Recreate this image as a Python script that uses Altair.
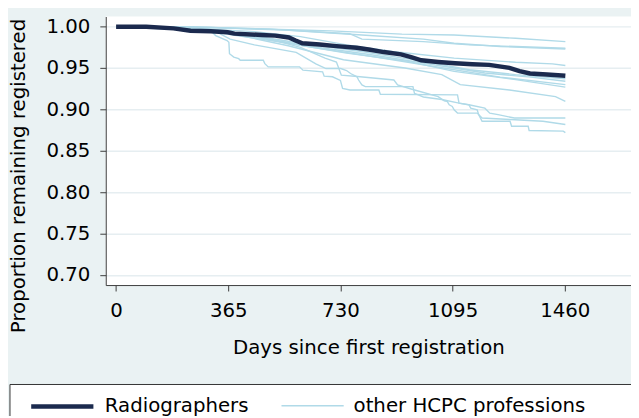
import altair as alt
import pandas as pd

# ---- data (day, proportion remaining registered) ----
radiographers = [(0, 1.000), (98, 1.000), (187, 0.998), (242, 0.995), (308, 0.9944), (363, 0.9932),
                 (385, 0.9916), (474, 0.990), (518, 0.9892), (562, 0.9869), (584, 0.9833), (606, 0.980),
                 (662, 0.9785), (717, 0.9765), (783, 0.9745), (827, 0.9721), (871, 0.9693), (927, 0.9665),
                 (960, 0.9633), (993, 0.9594), (1048, 0.9574), (1103, 0.9558), (1159, 0.9546), (1214, 0.9538),
                 (1280, 0.9502), (1313, 0.9462), (1347, 0.9434), (1402, 0.9422), (1462, 0.9406)]

other_a = [(0, 1.0), (250, 1.0), (400, 0.998), (700, 0.995), (930, 0.991), (1100, 0.990), (1300, 0.986), (1462, 0.982)]
other_b = [(0, 1.0), (300, 0.999), (500, 0.997), (760, 0.9915), (800, 0.985), (1000, 0.982), (1150, 0.978), (1300, 0.976), (1462, 0.974)]
other_c = [(0, 1.0), (300, 0.999), (550, 0.996), (800, 0.990), (1000, 0.985), (1100, 0.980), (1250, 0.976), (1462, 0.973)]
other_d = [(0, 1.0), (250, 0.998), (450, 0.994), (600, 0.988), (750, 0.978), (900, 0.970), (1100, 0.962), (1300, 0.957), (1420, 0.955), (1462, 0.953)]
other_e = [(0, 1.0), (280, 0.998), (400, 0.992), (600, 0.980), (800, 0.970), (1000, 0.958), (1150, 0.948), (1300, 0.942), (1462, 0.937)]
other_f = [(0, 1.0), (300, 0.997), (420, 0.990), (620, 0.977), (830, 0.966), (1050, 0.953), (1200, 0.944), (1350, 0.939), (1462, 0.934)]
other_g = [(0, 1.0), (320, 0.996), (440, 0.988), (640, 0.975), (850, 0.963), (1050, 0.951), (1250, 0.939), (1462, 0.930)]
other_h = [(0, 1.0), (300, 0.995), (380, 0.990), (560, 0.980), (750, 0.968), (950, 0.958), (1100, 0.946), (1300, 0.936), (1462, 0.927)]
other_i = [(0, 1.0), (300, 0.996), (420, 0.988), (560, 0.977), (740, 0.960), (940, 0.950), (1060, 0.942),
           (1120, 0.930), (1280, 0.9235), (1430, 0.9155), (1462, 0.9096)]
other_j = [(0, 1.0), (250, 0.999), (320, 0.995), (371, 0.985), (450, 0.978), (586, 0.969), (650, 0.955),
           (683, 0.9494), (731, 0.9494), (750, 0.947), (763, 0.9434), (784, 0.9394), (789, 0.9355),
           (800, 0.9295), (811, 0.9275), (966, 0.9275), (971, 0.9194), (1000, 0.915), (1060, 0.912),
           (1116, 0.9075), (1148, 0.9056), (1200, 0.9015), (1216, 0.8955), (1243, 0.8936), (1296, 0.8896),
           (1462, 0.8896)]
other_k = [(0, 1.0), (250, 0.999), (330, 0.996), (400, 0.991), (500, 0.985), (600, 0.975), (680, 0.962),
           (717, 0.9573), (733, 0.9414), (794, 0.9394), (904, 0.9355), (916, 0.9295), (960, 0.9247),
           (1048, 0.9155), (1068, 0.9104), (1078, 0.9095), (1084, 0.9056), (1094, 0.9036), (1100, 0.8996),
           (1111, 0.8955), (1175, 0.8955), (1191, 0.8896), (1282, 0.8877), (1389, 0.8856), (1462, 0.8817)]
other_l = [(0, 1.0), (150, 1.0), (313, 0.9932), (324, 0.9892), (361, 0.9833), (367, 0.9812), (369, 0.9673),
           (383, 0.9633), (399, 0.9613), (404, 0.9594), (479, 0.9594), (484, 0.9553), (495, 0.9514),
           (597, 0.9514), (608, 0.9474), (672, 0.9454), (677, 0.9402), (704, 0.9394), (730, 0.935),
           (737, 0.9254), (761, 0.9235), (855, 0.9235), (860, 0.9183), (1111, 0.9175), (1116, 0.9075),
           (1148, 0.9056), (1154, 0.9015), (1175, 0.8996), (1180, 0.8936), (1191, 0.8856), (1282, 0.8856),
           (1287, 0.8796), (1341, 0.8796), (1344, 0.8745), (1455, 0.8737), (1462, 0.872)]

others = [other_a, other_b, other_c, other_d, other_e, other_f, other_g, other_h,
          other_i, other_j, other_k, other_l]

groups = ["Radiographers", "other HCPC professions"]
group_colors = ["#1b2a4e", "#b0dae8"]
group_widths = [4.5, 1.4]

x_ticks = [0, 365, 730, 1095, 1460]
y_ticks = [0.70, 0.75, 0.80, 0.85, 0.90, 0.95, 1.00]

# ---- build table ----
rows = []
for i, (d, s) in enumerate(radiographers):
    rows.append({"day": d, "surv": s, "series": "rad", "group": groups[0], "idx": i})
for k, line in enumerate(others):
    for i, (d, s) in enumerate(line):
        rows.append({"day": d, "surv": s, "series": f"o{k}", "group": groups[1], "idx": i})
df = pd.DataFrame(rows)

FONT = "DejaVu Sans"

x_enc = alt.X("day:Q",
              scale=alt.Scale(domain=[-33.7, 1675.6], nice=False, zero=False),
              axis=alt.Axis(values=x_ticks, format="d", title="Days since first registration", grid=False,
                            labelPadding=10, titleX=266, titleY=69, titleBaseline="alphabetic",
                            titleAlign="center"))
y_enc = alt.Y("surv:Q",
              scale=alt.Scale(domain=[0.6876, 1.0123], nice=False, zero=False),
              axis=alt.Axis(values=y_ticks, format=".2f", title="Proportion remaining registered",
                            grid=True, labelPadding=10, titleX=-82.7, titleY=161,
                            titleBaseline="alphabetic", titleAlign="center", titleAngle=270))

legend = alt.Legend(orient="none", legendX=-78, legendY=361, direction="horizontal", title=None,
                    symbolType="stroke", symbolSize=3969, labelFontSize=20, labelFont=FONT,
                    labelColor="black", labelOffset=9, columnPadding=30, padding=0, labelLimit=0)

color_enc = alt.Color("group:N", scale=alt.Scale(domain=groups, range=group_colors), legend=legend)
width_enc = alt.StrokeWidth("group:N", scale=alt.Scale(domain=groups, range=group_widths), legend=legend)

light = alt.Chart(df[df["group"] == groups[1]]).mark_line().encode(
    x=x_enc, y=y_enc, color=color_enc, strokeWidth=width_enc,
    detail="series:N", order=alt.Order("idx:Q"))
dark = alt.Chart(df[df["group"] == groups[0]]).mark_line().encode(
    x=x_enc, y=y_enc, color=color_enc, strokeWidth=width_enc,
    order=alt.Order("idx:Q"))

box = alt.Chart(pd.DataFrame({"a": [0]})).mark_rect(
    fill="white", stroke="#333333", strokeWidth=1).encode(
    x=alt.value(-97), x2=alt.value(560), y=alt.value(372.7), y2=alt.value(430))

chart = alt.layer(box, light, dark).properties(
    width=532, height=272,
    autosize=alt.AutoSizeParams(type="none"),
    padding={"left": 99, "top": 6, "right": 0, "bottom": 130},
    background="#eaf2f3",
).configure_view(
    fill="white", strokeWidth=0
).configure_axis(
    domainColor="#3c3c3c", domainWidth=1, tickColor="#3c3c3c", tickSize=6, tickWidth=1,
    labelFont=FONT, labelFontSize=20, labelColor="black",
    titleFont=FONT, titleFontSize=20, titleFontWeight="normal", titleColor="black",
    gridColor="#e6eef1", gridWidth=1.5
)

chart.save("out.html", embed_options={"renderer": "svg", "actions": False})
